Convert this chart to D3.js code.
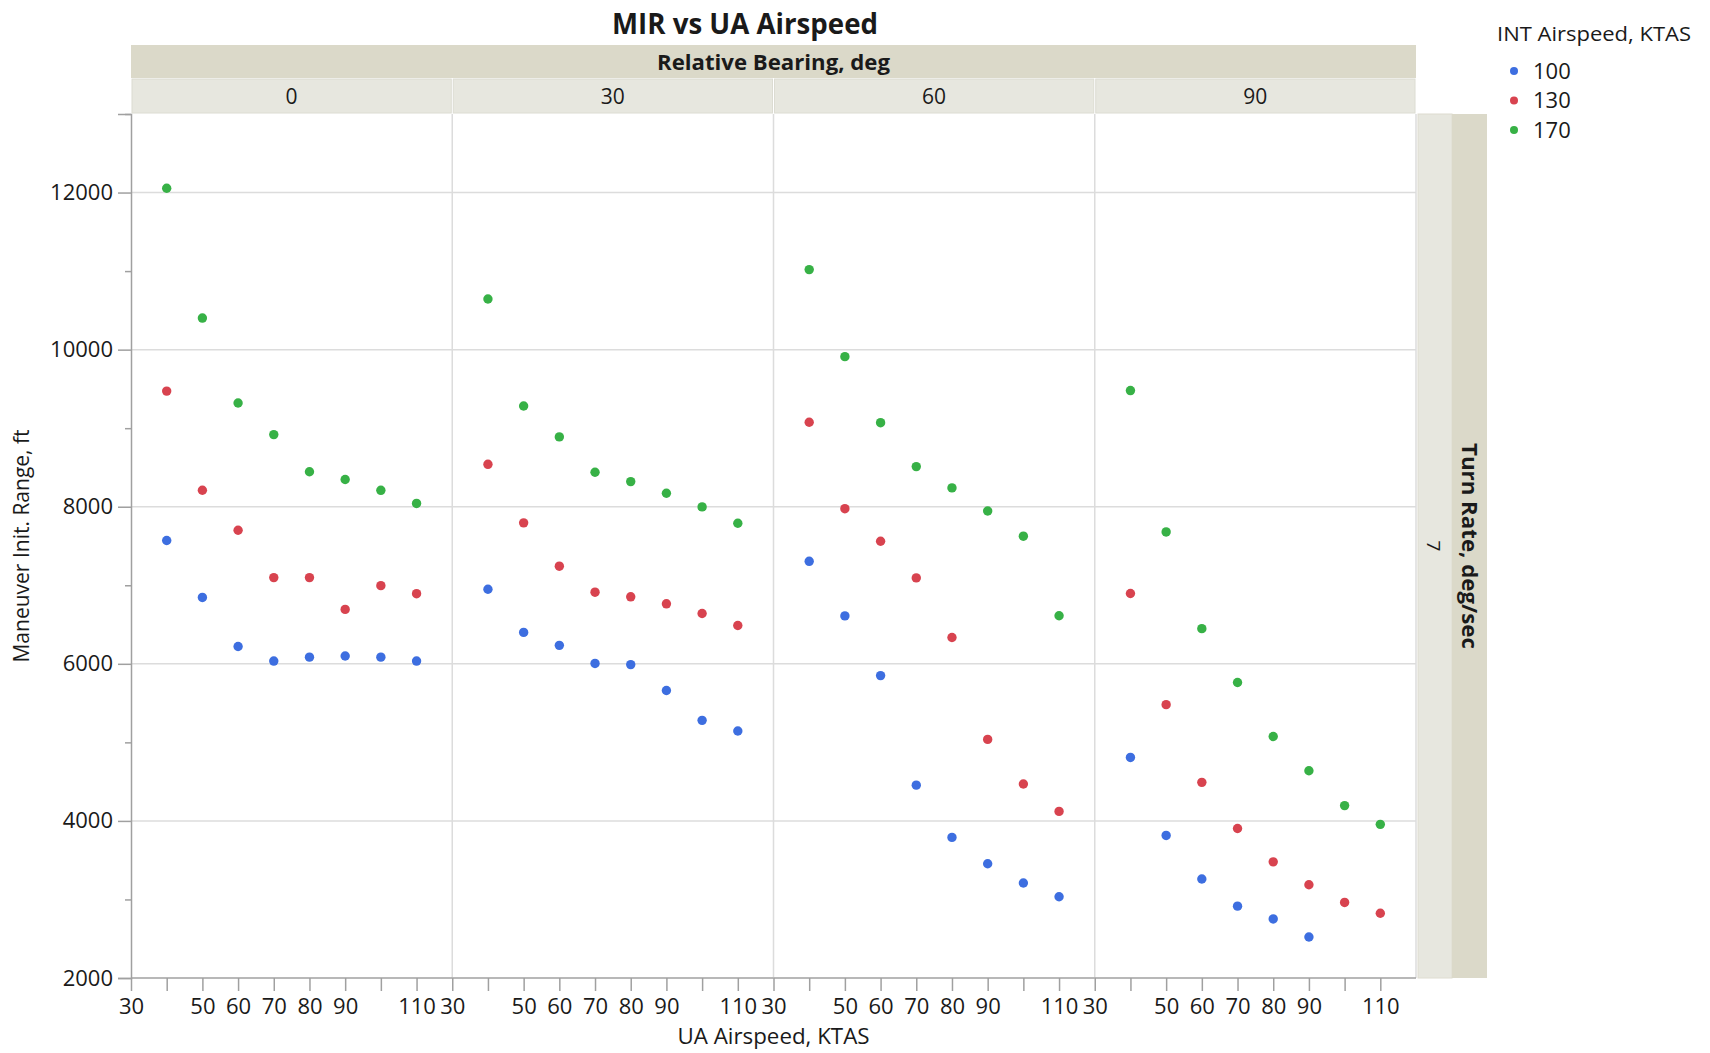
<!DOCTYPE html>
<html>
<head>
<meta charset="utf-8">
<script src="https://cdn.jsdelivr.net/npm/d3@7"></script>
<style>
  html, body { margin: 0; padding: 0; background: #fff; }
  svg { display: block; }
  text { font-family: "Open Sans", "Noto Sans", sans-serif; fill: #1a1a1a; }
</style>
</head>
<body>
<svg id="chart" width="1710" height="1053"></svg>
<script>
// Relative bearing facets, UA airspeed categories, INT airspeed series
const bearings = [0, 30, 60, 90];
const uaSpeeds = [40, 50, 60, 70, 80, 90, 100, 110];
const intSpeeds = [100, 130, 170];
const seriesColors = ["#3d6ee0", "#d8434f", "#37b146"];

// Maneuver init. range (ft), one row per relative bearing, one value per UA airspeed
const range100 = [
  [7570, 6845, 6220, 6035, 6085, 6100, 6085, 6035],
  [6950, 6400, 6235, 6005, 5990, 5660, 5280, 5145],
  [7305, 6610, 5850, 4455, 3790, 3455, 3210, 3035],
  [4808, 3815, 3260, 2915, 2752, 2522]
];
const range130 = [
  [9472, 8210, 7700, 7098, 7098, 6693, 6995, 6893],
  [8540, 7795, 7243, 6912, 6853, 6764, 6641, 6488],
  [9075, 7975, 7560, 7094, 6335, 5038, 4470, 4121],
  [6895, 5480, 4491, 3903, 3479, 3187, 2962, 2825]
];
const range170 = [
  [12055, 10402, 9320, 8918, 8445, 8347, 8209, 8042],
  [10645, 9283, 8889, 8439, 8320, 8172, 7998, 7790],
  [11019, 9911, 9070, 8511, 8240, 7946, 7625, 6612],
  [9479, 7679, 6448, 5762, 5075, 4638, 4195, 3956]
];

// Axis ticks
const xTickValues = [30, 40, 50, 60, 70, 80, 90, 100, 110];
const xTickLabels = ["30", "", "50", "60", "70", "80", "90", "", "110"];
const yMajorTicks = [2000, 4000, 6000, 8000, 10000, 12000];
const yMinorTicks = [3000, 5000, 7000, 9000, 11000, 13000];

const svg = d3.select("#chart");

const plot = { left: 131, right: 1416, top: 114, bottom: 978 };
const stripBand = { top: 45, mid: 78 };

const panel = d3.scaleBand().domain(bearings).range([plot.left, plot.right]).padding(0);
const y = d3.scaleLinear().domain([2000, 13000]).range([plot.bottom, plot.top]);
const xFor = b => d3.scaleLinear().domain([30, 120])
  .range([panel(b), panel(b) + panel.bandwidth()]);

const rows = [];
intSpeeds.forEach((s, si) => {
  const table = [range100, range130, range170][si];
  bearings.forEach((b, bi) => {
    table[bi].forEach((v, i) => rows.push({ bearing: b, ua: uaSpeeds[i], int: s, value: v }));
  });
});
const color = d3.scaleOrdinal().domain(intSpeeds).range(seriesColors);

// Title
svg.append("text")
  .attr("x", 745).attr("y", 34)
  .attr("text-anchor", "middle")
  .attr("font-size", 29).attr("font-weight", 700)
  .attr("textLength", 266).attr("lengthAdjust", "spacingAndGlyphs")
  .text("MIR vs UA Airspeed");

// Column strip: overall header band
svg.append("rect")
  .attr("x", plot.left).attr("y", stripBand.top)
  .attr("width", plot.right - plot.left).attr("height", stripBand.mid - stripBand.top)
  .attr("fill", "#dbd9c9");
svg.append("text")
  .attr("x", (plot.left + plot.right) / 2).attr("y", 70)
  .attr("text-anchor", "middle")
  .attr("font-size", 21).attr("font-weight", 700)
  .attr("textLength", 233).attr("lengthAdjust", "spacingAndGlyphs")
  .text("Relative Bearing, deg");

// Column strip: per-bearing cells
const cells = svg.append("g");
bearings.forEach(b => {
  cells.append("rect")
    .attr("x", panel(b) + 1).attr("y", stripBand.mid + 1)
    .attr("width", panel.bandwidth() - 2).attr("height", plot.top - stripBand.mid - 2)
    .attr("fill", "#e7e7df").attr("stroke", "#dcdcd2").attr("stroke-width", 1);
  cells.append("text")
    .attr("x", panel(b) + panel.bandwidth() / 2).attr("y", 104)
    .attr("text-anchor", "middle")
    .attr("font-size", 21)
    .text(b);
});

// Row strip on the right
svg.append("rect").attr("x", 1418).attr("y", plot.top)
  .attr("width", 34).attr("height", plot.bottom - plot.top).attr("fill", "#e7e7df")
  .attr("stroke", "#dedcd0");
svg.append("rect").attr("x", 1452).attr("y", plot.top)
  .attr("width", 35).attr("height", plot.bottom - plot.top).attr("fill", "#dbd9c9");
svg.append("text")
  .attr("transform", `translate(1427,${(plot.top + plot.bottom) / 2}) rotate(90)`)
  .attr("text-anchor", "middle")
  .attr("font-size", 19)
  .text("7");
svg.append("text")
  .attr("transform", `translate(1462,${(plot.top + plot.bottom) / 2}) rotate(90)`)
  .attr("text-anchor", "middle")
  .attr("font-size", 21).attr("font-weight", 700)
  .attr("textLength", 206).attr("lengthAdjust", "spacingAndGlyphs")
  .text("Turn Rate, deg/sec");

// Grid lines
const grid = svg.append("g");
yMajorTicks.filter(t => t > 2000).forEach(t => {
  grid.append("line")
    .attr("x1", plot.left).attr("x2", plot.right)
    .attr("y1", y(t)).attr("y2", y(t))
    .attr("stroke", "#dcdcdc").attr("stroke-width", 1.5);
});
bearings.forEach(b => {
  grid.append("line")
    .attr("x1", panel(b) + panel.bandwidth()).attr("x2", panel(b) + panel.bandwidth())
    .attr("y1", plot.top).attr("y2", plot.bottom)
    .attr("stroke", "#dcdcdc").attr("stroke-width", 1.5);
});

// Y axis
const yAxis = d3.axisLeft(y).tickValues(yMajorTicks).tickSize(13).tickPadding(5).tickFormat(d3.format("d"));
const yg = svg.append("g").attr("transform", `translate(${plot.left},0)`).call(yAxis);
yg.select(".domain").attr("stroke", "#a0a0a0").attr("stroke-width", 1.5);
yg.selectAll(".tick line").attr("stroke", "#a0a0a0").attr("stroke-width", 1.5);
yg.selectAll(".tick text").attr("font-size", 22).attr("fill", "#1a1a1a")
  .style("font-family", '"Open Sans", sans-serif');
const yMinor = d3.axisLeft(y).tickValues(yMinorTicks).tickSize(6).tickFormat("");
const ymg = svg.append("g").attr("transform", `translate(${plot.left},0)`).call(yMinor);
ymg.select(".domain").remove();
ymg.selectAll(".tick line").attr("stroke", "#a0a0a0").attr("stroke-width", 1.5);

// X axes, one per bearing panel
bearings.forEach(b => {
  const x = xFor(b);
  const ax = d3.axisBottom(x).tickValues(xTickValues).tickSize(13).tickPadding(7)
    .tickFormat((d, i) => xTickLabels[i]);
  const g = svg.append("g").attr("transform", `translate(0,${plot.bottom})`).call(ax);
  g.select(".domain").attr("stroke", "#a0a0a0").attr("stroke-width", 1.5)
    .attr("d", `M${x.range()[0]},0H${x.range()[1]}`);
  g.selectAll(".tick line").attr("stroke", "#a0a0a0").attr("stroke-width", 1.5);
  g.selectAll(".tick text").attr("font-size", 22).attr("fill", "#1a1a1a")
    .style("font-family", '"Open Sans", sans-serif');
});

// Axis titles
svg.append("text")
  .attr("x", (plot.left + plot.right) / 2).attr("y", 1044)
  .attr("text-anchor", "middle")
  .attr("font-size", 21)
  .attr("textLength", 192).attr("lengthAdjust", "spacingAndGlyphs")
  .text("UA Airspeed, KTAS");
svg.append("text")
  .attr("transform", `translate(29,${(plot.top + plot.bottom) / 2}) rotate(-90)`)
  .attr("text-anchor", "middle")
  .attr("font-size", 21)
  .text("Maneuver Init. Range, ft");

// Points
svg.append("g").selectAll("circle")
  .data(rows)
  .join("circle")
  .attr("cx", d => xFor(d.bearing)(d.ua))
  .attr("cy", d => y(d.value))
  .attr("r", 4.7)
  .attr("fill", d => color(d.int));

// Legend
const legend = svg.append("g");
legend.append("text")
  .attr("x", 1497).attr("y", 41)
  .attr("font-size", 20)
  .attr("textLength", 194).attr("lengthAdjust", "spacingAndGlyphs")
  .text("INT Airspeed, KTAS");
intSpeeds.forEach((s, i) => {
  const cy = 71 + i * 29.5;
  legend.append("circle").attr("cx", 1514).attr("cy", cy).attr("r", 4).attr("fill", color(s));
  legend.append("text").attr("x", 1533).attr("y", cy + 7.5)
    .attr("font-size", 22).text(s);
});
</script>
</body>
</html>
